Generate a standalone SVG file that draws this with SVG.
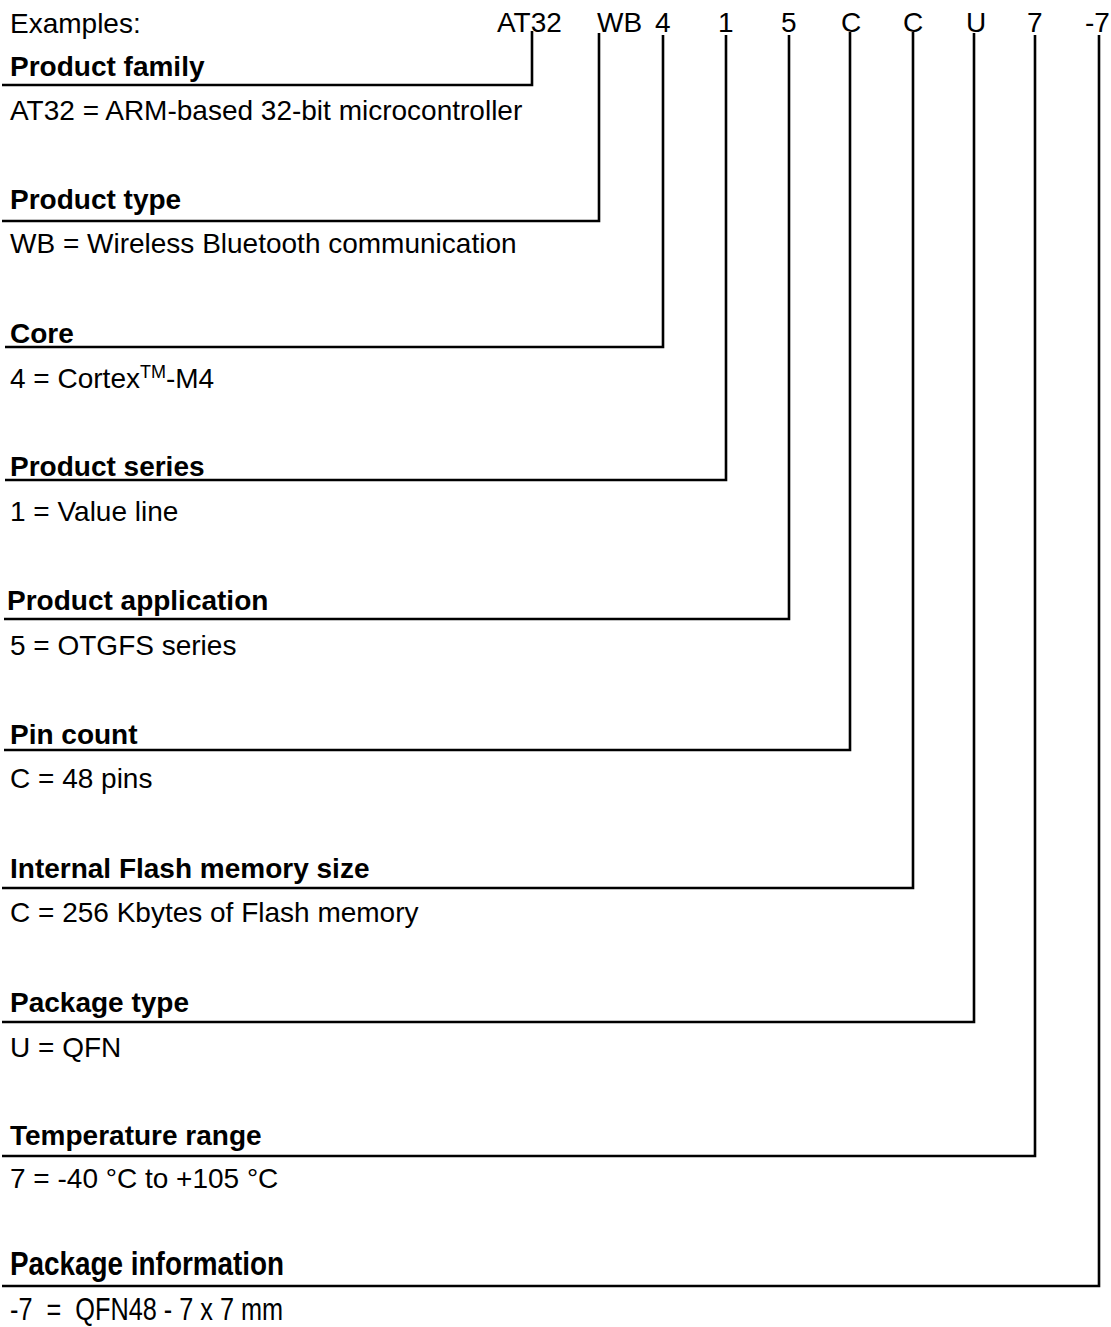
<svg xmlns="http://www.w3.org/2000/svg" width="1111" height="1327" viewBox="0 0 1111 1327">
<style>
text{font-family:"Liberation Sans",Arial,sans-serif;font-size:28px;fill:#000}
.b{font-weight:bold}
.c{fill:none;stroke:#000;stroke-width:2.6}
</style>
<rect width="1111" height="1327" fill="#fff"/>
<g id="header">
<text x="10" y="33">Examples:</text>
<text x="497" y="32">AT32</text>
<text x="597" y="32">WB</text>
<text x="655" y="32">4</text>
<text x="718" y="32">1</text>
<text x="781" y="32">5</text>
<text x="841" y="32">C</text>
<text x="903" y="32">C</text>
<text x="966" y="32">U</text>
<text x="1027" y="32">7</text>
<text x="1085" y="32">-7</text>
</g>
<g id="connectors">
<polyline class="c" points="2,85 532,85 532,31"/>
<polyline class="c" points="2,221 599,221 599,33"/>
<polyline class="c" points="5,347 663,347 663,35"/>
<polyline class="c" points="5,480 726,480 726,35"/>
<polyline class="c" points="4,619 789,619 789,35"/>
<polyline class="c" points="4,750 850,750 850,32"/>
<polyline class="c" points="2,888 913,888 913,32"/>
<polyline class="c" points="2,1022 974,1022 974,33"/>
<polyline class="c" points="2,1156 1035,1156 1035,35"/>
<polyline class="c" points="2,1286 1099,1286 1099,35"/>
</g>
<g id="product-family">
<text class="b" x="10" y="76">Product family</text>
<text x="10" y="120">AT32 = ARM-based 32-bit microcontroller</text>
</g>
<g id="product-type">
<text class="b" x="10" y="209">Product type</text>
<text x="10" y="253">WB = Wireless Bluetooth communication</text>
</g>
<g id="core">
<text class="b" x="10" y="343">Core</text>
<text x="10" y="388">4 = Cortex<tspan font-size="18" dy="-10">TM</tspan><tspan dy="10">-M4</tspan></text>
</g>
<g id="product-series">
<text class="b" x="10" y="476">Product series</text>
<text x="10" y="521">1 = Value line</text>
</g>
<g id="product-application">
<text class="b" x="7" y="610">Product application</text>
<text x="10" y="655">5 = OTGFS series</text>
</g>
<g id="pin-count">
<text class="b" x="10" y="744">Pin count</text>
<text x="10" y="788">C = 48 pins</text>
</g>
<g id="flash-size">
<text class="b" x="10" y="878">Internal Flash memory size</text>
<text x="10" y="922">C = 256 Kbytes of Flash memory</text>
</g>
<g id="package-type">
<text class="b" x="10" y="1012">Package type</text>
<text x="10" y="1057">U = QFN</text>
</g>
<g id="temperature-range">
<text class="b" x="10" y="1145">Temperature range</text>
<text x="10" y="1188">7 = -40 °C to +105 °C</text>
</g>
<g id="package-information">
<text class="b" transform="translate(10,1275) scale(0.82,1)" style="font-size:34px">Package information</text>
<text transform="translate(10,1320) scale(0.79,1)" style="font-size:32px" xml:space="preserve">-7  =  QFN48 - 7 x 7 mm</text>
</g>
</svg>
